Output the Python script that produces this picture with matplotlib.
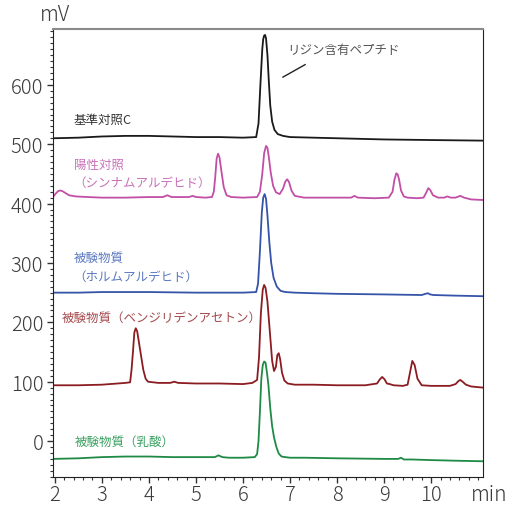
import matplotlib
matplotlib.use("Agg")
import matplotlib.pyplot as plt
from matplotlib.ticker import MultipleLocator

plt.rcParams['font.family'] = ['Noto Sans CJK JP', 'DejaVu Sans']

# retention time (min) / signal (mV)
t_ctrl = [1.96, 2.5, 3.0, 3.5, 4.0, 4.5, 5.0, 5.5, 6.0, 6.28, 6.33, 6.37, 6.41, 6.43, 6.45, 6.47, 6.49,
          6.52, 6.55, 6.58, 6.62, 6.67, 6.74, 6.85, 7.0, 7.5, 8.0, 9.0, 10.0, 11.11]
v_ctrl = [510, 511, 513, 514, 514, 513, 512, 512, 511, 512, 535, 600, 660, 677, 683, 684, 678,
          650, 605, 565, 538, 524, 517, 514, 512, 511, 510, 508, 507, 506]

t_pos = [1.96, 2.02, 2.07, 2.11, 2.16, 2.22, 2.3, 2.45, 2.7, 3.0, 3.5, 4.0, 4.3, 4.39, 4.48, 4.7, 4.85,
         4.93, 5.0, 5.2, 5.34, 5.38, 5.41, 5.44, 5.47, 5.50, 5.54, 5.59, 5.65, 5.75, 6.0, 6.3, 6.36,
         6.41, 6.45, 6.49, 6.52, 6.55, 6.59, 6.64, 6.70, 6.78, 6.85, 6.90, 6.94, 6.98, 7.03, 7.1, 7.3,
         7.8, 8.3, 8.37, 8.44, 8.8, 9.1, 9.18, 9.22, 9.26, 9.29, 9.32, 9.36, 9.42, 9.5, 9.7, 9.84, 9.9,
         9.94, 9.98, 10.04, 10.15, 10.28, 10.34, 10.42, 10.52, 10.62, 10.7, 10.85, 11.11]
v_pos = [411, 417, 421, 422, 421, 418, 414, 412, 411, 410, 410, 411, 411, 414, 411, 411, 411,
         413, 411, 410, 411, 420, 445, 476, 484, 478, 455, 428, 414, 411, 410, 411, 420,
         450, 485, 497, 494, 478, 452, 430, 419, 416, 425, 437, 441, 436, 422, 413, 410,
         410, 410, 413, 410, 409, 410, 420, 440, 451, 449, 440, 422, 412, 410, 409, 410, 419,
         426, 423, 414, 410, 410, 412, 410, 410, 413, 410, 407, 406]

t_form = [1.96, 2.5, 3.0, 3.5, 4.0, 5.0, 6.0, 6.28, 6.32, 6.36, 6.40, 6.43, 6.46, 6.49, 6.52, 6.56,
          6.60, 6.65, 6.72, 6.8, 6.9, 7.1, 7.5, 8.0, 9.0, 9.8, 9.88, 9.93, 9.98, 10.05, 10.5, 11.11]
v_form = [250, 250, 251, 251, 251, 250, 250, 251, 265, 320, 385, 410, 416, 408, 380, 335,
          300, 275, 260, 253, 251, 250, 249, 248, 247, 246, 248, 249, 247, 246, 245, 244]

t_benz = [1.96, 2.5, 3.0, 3.5, 3.6, 3.63, 3.66, 3.69, 3.72, 3.75, 3.79, 3.83, 3.88, 3.93, 3.98, 4.2,
          4.45, 4.54, 4.62, 5.0, 5.5, 6.0, 6.2, 6.3, 6.34, 6.38, 6.42, 6.45, 6.48, 6.52, 6.57, 6.62,
          6.66, 6.70, 6.73, 6.76, 6.79, 6.83, 6.88, 6.95, 7.1, 7.5, 8.0, 8.6, 8.85, 8.91, 8.96, 9.01,
          9.06, 9.12, 9.2, 9.4, 9.5, 9.55, 9.6, 9.65, 9.71, 9.8, 10.0, 10.4, 10.52, 10.58, 10.62,
          10.67, 10.74, 10.85, 11.11]
v_benz = [94, 94, 95, 98, 99, 120, 150, 183, 190, 185, 165, 145, 120, 105, 100, 98,
          98, 100, 98, 97, 97, 96, 98, 103, 140, 215, 255, 263, 258, 235, 185, 135,
          118, 125, 145, 148, 138, 115, 102, 97, 95, 95, 94, 94, 97, 104, 108, 104,
          97, 96, 94, 93, 95, 115, 135, 128, 105, 94, 93, 93, 96, 101, 103,
          100, 95, 92, 90]

t_lact = [1.96, 2.5, 3.0, 3.5, 4.0, 4.5, 5.0, 5.4, 5.48, 5.56, 5.7, 6.0, 6.25, 6.30, 6.33, 6.36,
          6.39, 6.42, 6.45, 6.48, 6.51, 6.54, 6.58, 6.62, 6.66, 6.71, 6.76, 6.82, 6.9, 7.0, 7.3,
          8.0, 9.0, 9.3, 9.36, 9.42, 9.6, 10.0, 10.5, 11.11]
v_lact = [-30, -29, -27, -26, -26, -27, -27, -27, -24, -27, -28, -28, -27, -22, 0, 50,
          105, 128, 134, 132, 115, 95, 55, 25, 6, -10, -21, -26, -27, -28, -28,
          -29, -30, -30, -28, -31, -31, -32, -33, -34]

fig = plt.figure(figsize=(5.14, 5.06), dpi=100)
ax = fig.add_axes([0.1031, 0.0559, 0.8372, 0.8848])

ax.plot(t_ctrl, v_ctrl, color='#1a1a1a', lw=1.3)
ax.plot(t_pos, v_pos, color='#c14fa6', lw=1.3)
ax.plot(t_form, v_form, color='#3553a8', lw=1.3)
ax.plot(t_benz, v_benz, color='#8b1c22', lw=1.3)
ax.plot(t_lact, v_lact, color='#1f8a45', lw=1.3)

fs = 9
ax.text(2.40, 542, '基準対照C', color='#333333', fontsize=fs, va='center')
ax.text(2.40, 466, '陽性対照', color='#c970b8', fontsize=fs, va='center')
ax.text(2.40, 436, '（シンナムアルデヒド）', color='#c970b8', fontsize=fs, va='center')
ax.text(2.40, 309, '被験物質', color='#5a78c0', fontsize=fs, va='center')
ax.text(2.40, 278, '（ホルムアルデヒド）', color='#5a78c0', fontsize=fs, va='center')
ax.text(2.14, 208, '被験物質（ベンジリデンアセトン）', color='#a54a4e', fontsize=fs, va='center')
ax.text(2.42, 0, '被験物質（乳酸）', color='#3aa060', fontsize=fs, va='center')

ax.text(6.95, 659, 'リジン含有ペプチド', color='#555555', fontsize=fs, va='center')
ax.plot([6.85, 7.32], [613, 634], color='#222222', lw=1)

ax.set_xlim(1.96, 11.11)
ax.set_ylim(-60, 694)
ax.set_yticks([0, 100, 200, 300, 400, 500, 600])
ax.set_xticks(range(2, 11))
ax.xaxis.set_minor_locator(MultipleLocator(0.2))
ax.yaxis.set_minor_locator(MultipleLocator(10))
ax.tick_params(which='major', length=4, width=1, color='#333333', labelsize=14.5, labelcolor='#3a3a3a')
ax.tick_params(which='minor', length=2.5, width=0.8, color='#333333')
ax.tick_params(axis='x', pad=1.5)
ax.tick_params(axis='y', pad=3)
for lab in ax.get_xticklabels() + ax.get_yticklabels():
    lab.set_fontweight('light')

for s in ['left', 'bottom', 'right']:
    ax.spines[s].set_color('#222222')
ax.spines['top'].set_color('#8a8a8a')
ax.spines['top'].set_linewidth(1.5)

fig.text(40 / 514, 1 - 15 / 506, 'mV', fontsize=15, fontweight='light', color='#3a3a3a', va='center', ha='left')
fig.text(471 / 514, 1 - 495 / 506, 'min', fontsize=15, fontweight='light', color='#3a3a3a', va='center', ha='left')

fig.savefig('out.png', dpi=100)
